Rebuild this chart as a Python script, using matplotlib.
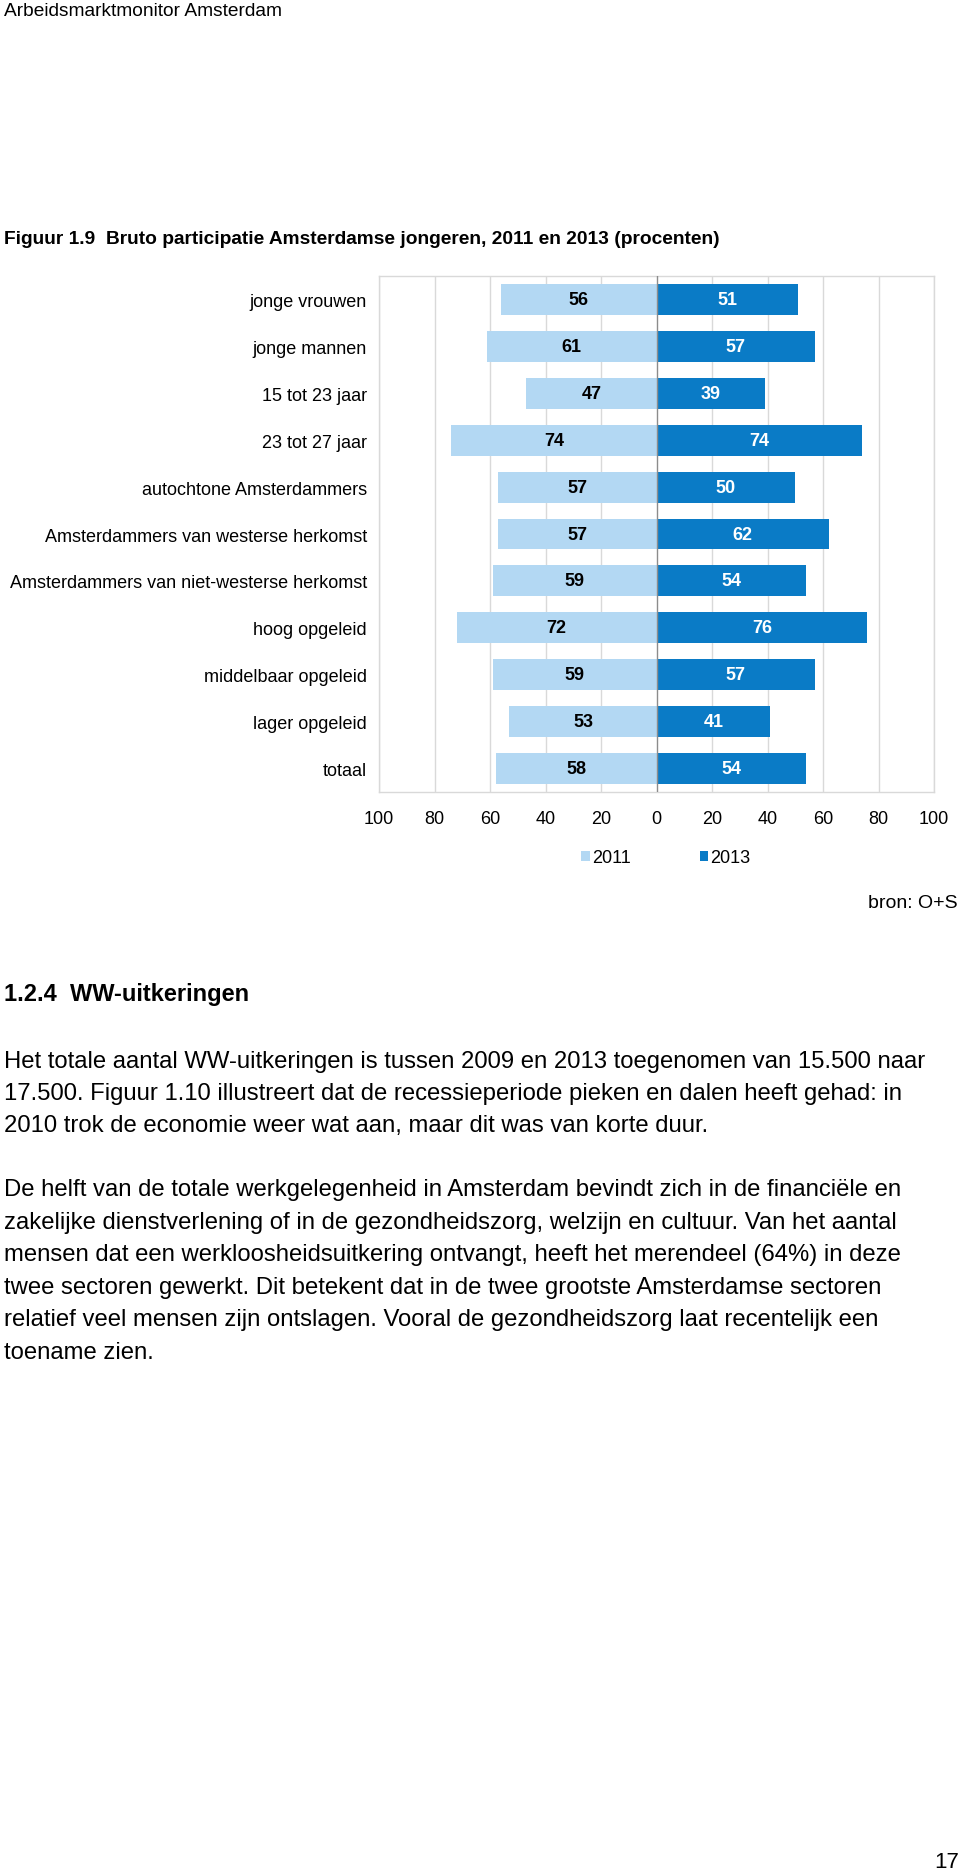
import numpy as np
import matplotlib
matplotlib.use("Agg")
import matplotlib.pyplot as plt
from matplotlib.patches import Patch

plt.rcParams['font.family'] = ['Liberation Sans', 'DejaVu Sans']

# data
categorieen = ["jonge vrouwen", "jonge mannen", "15 tot 23 jaar", "23 tot 27 jaar",
               "autochtone Amsterdammers", "Amsterdammers van westerse herkomst",
               "Amsterdammers van niet-westerse herkomst", "hoog opgeleid",
               "middelbaar opgeleid", "lager opgeleid", "totaal"]
waarden_2011 = [56, 61, 47, 74, 57, 57, 59, 72, 59, 53, 58]
waarden_2013 = [51, 57, 39, 74, 50, 62, 54, 76, 57, 41, 54]
x_ticks = [-100, -80, -60, -40, -20, 0, 20, 40, 60, 80, 100]
x_labels = ["100", "80", "60", "40", "20", "0", "20", "40", "60", "80", "100"]

licht = "#B3D8F3"
donker = "#0A7BC6"
grijs = "#D9D9D9"

W, H = 960, 1874
fig = plt.figure(figsize=(W / 100, H / 100), dpi=100)

# as in pixels
links, rechts, boven, onder = 379, 934, 277, 793
ax = fig.add_axes([links / W, 1 - onder / H, (rechts - links) / W, (onder - boven) / H])

y = np.arange(len(categorieen))
ax.barh(y, [-v for v in waarden_2011], height=0.66, color=licht, zorder=2)
ax.barh(y, waarden_2013, height=0.66, color=donker, zorder=2)

for i in range(len(categorieen)):
    ax.text(-waarden_2011[i] / 2, y[i], str(waarden_2011[i]), ha="center", va="center",
            fontsize=13, fontweight="bold", color="black", zorder=3)
    ax.text(waarden_2013[i] / 2, y[i], str(waarden_2013[i]), ha="center", va="center",
            fontsize=13, fontweight="bold", color="white", zorder=3)

ax.set_xlim(-100, 100)
ax.set_ylim(len(categorieen) - 0.5, -0.5)
ax.set_xticks(x_ticks)
ax.set_xticklabels(x_labels, fontsize=13)
ax.set_yticks(y)
ax.set_yticklabels(categorieen, fontsize=13)
ax.tick_params(axis="both", length=0)
ax.tick_params(axis="y", pad=8.6)
ax.tick_params(axis="x", pad=13)
for x in x_ticks:
    if x != 0:
        ax.axvline(x, color=grijs, linewidth=1, zorder=1)
ax.axvline(0, color="#8C8C8C", linewidth=1, zorder=3)
for s in ax.spines.values():
    s.set_color(grijs)
    s.set_linewidth(1)

handles = [Patch(facecolor=licht, label="2011"), Patch(facecolor=donker, label="2013")]
fig.legend(handles=handles, loc="center", bbox_to_anchor=(666 / W, 1 - 859 / H), ncol=2,
           frameon=False, fontsize=13, handlelength=0.45, handleheight=0.45,
           handletextpad=0.15, columnspacing=3.8, borderpad=0, borderaxespad=0)

fig.text(958 / W, 1 - 904 / H, "bron: O+S", ha="right", va="center", fontsize=14)

# pagina tekst
fig.text(4 / W, 1 - 11 / H, "Arbeidsmarktmonitor Amsterdam", ha="left", va="center", fontsize=13.8)
fig.text(4 / W, 1 - 240 / H, "Figuur 1.9  Bruto participatie Amsterdamse jongeren, 2011 en 2013 (procenten)",
         ha="left", va="center", fontsize=13.8, fontweight="bold")
fig.text(4 / W, 1 - 995 / H, "1.2.4  WW-uitkeringen", ha="left", va="center",
         fontsize=17, fontweight="bold")

regels = [
    (1062, "Het totale aantal WW-uitkeringen is tussen 2009 en 2013 toegenomen van 15.500 naar"),
    (1094, "17.500. Figuur 1.10 illustreert dat de recessieperiode pieken en dalen heeft gehad: in"),
    (1126, "2010 trok de economie weer wat aan, maar dit was van korte duur."),
    (1190, "De helft van de totale werkgelegenheid in Amsterdam bevindt zich in de financiële en"),
    (1223, "zakelijke dienstverlening of in de gezondheidszorg, welzijn en cultuur. Van het aantal"),
    (1255, "mensen dat een werkloosheidsuitkering ontvangt, heeft het merendeel (64%) in deze"),
    (1288, "twee sectoren gewerkt. Dit betekent dat in de twee grootste Amsterdamse sectoren"),
    (1320, "relatief veel mensen zijn ontslagen. Vooral de gezondheidszorg laat recentelijk een"),
    (1353, "toename zien."),
]
for ypix, tekst in regels:
    fig.text(4 / W, 1 - ypix / H, tekst, ha="left", va="center", fontsize=17.2)

fig.text(959 / W, 1 - 1863 / H, "17", ha="right", va="center", fontsize=16)

fig.savefig("out.png", dpi=100)
